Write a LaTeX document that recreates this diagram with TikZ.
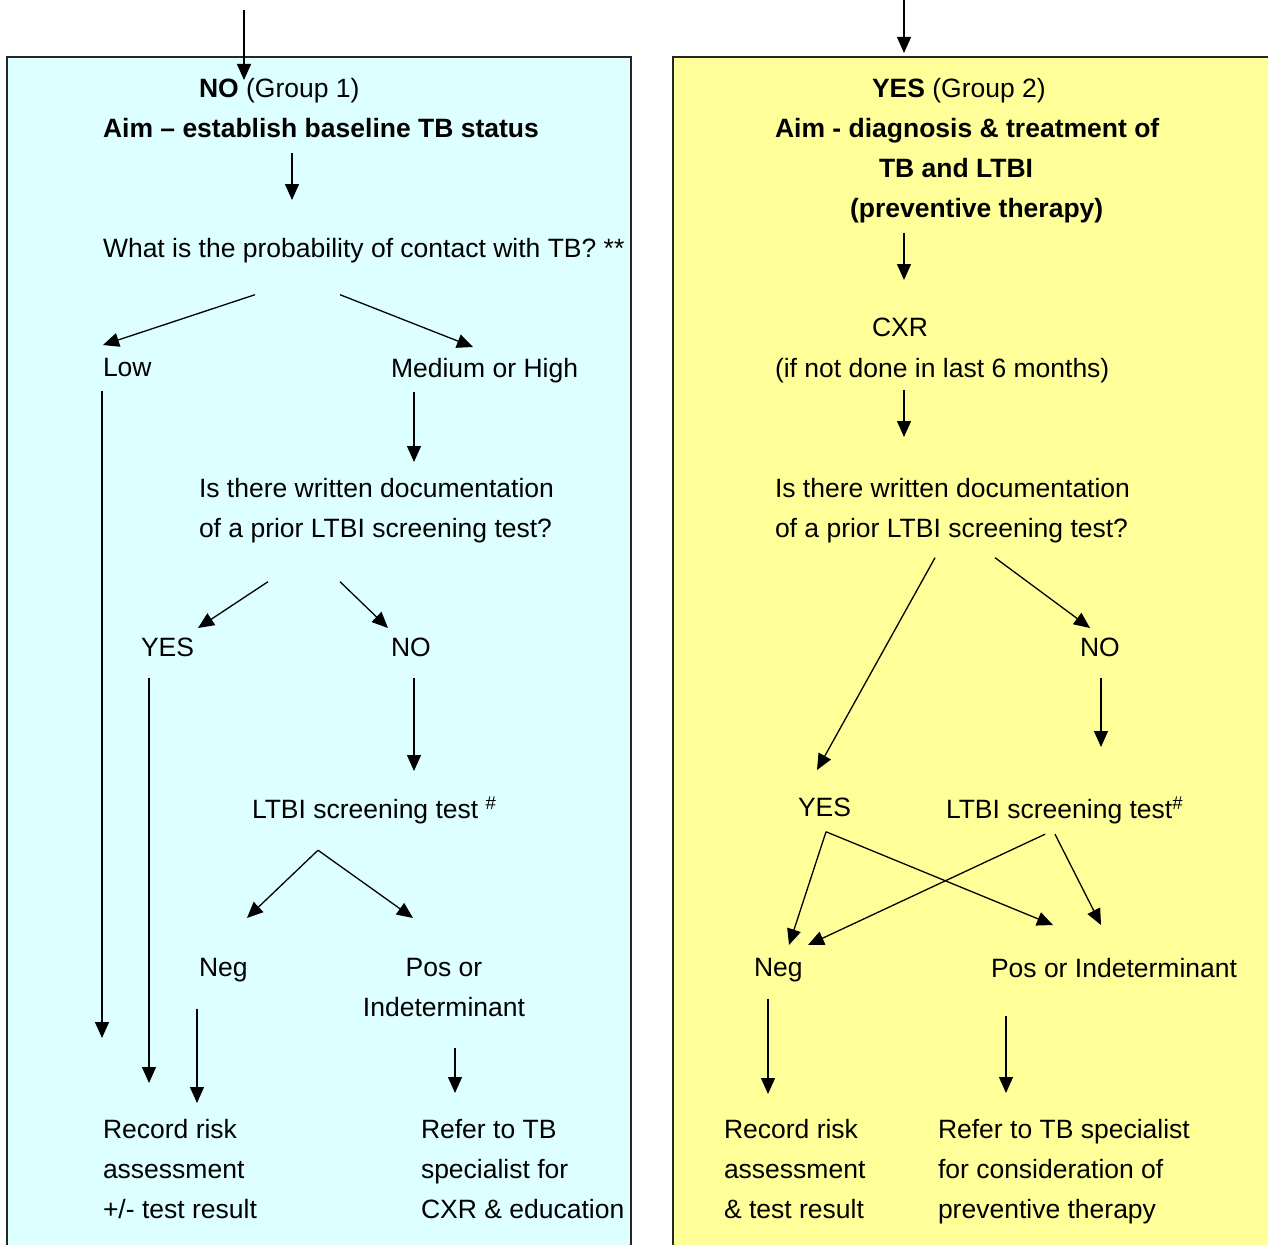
\documentclass[tikz,border=0pt]{standalone}
\usepackage{fontspec}
\setmainfont{Liberation Sans}
\usetikzlibrary{arrows.meta,calc}

\definecolor{groupone}{HTML}{DDFFFF}
\definecolor{grouptwo}{HTML}{FFFF99}

\begin{document}
\begin{tikzpicture}[
    x=1pt, y=-1pt,
    every node/.style={inner sep=0pt, outer sep=0pt, font=\fontsize{26.5}{40}\selectfont},
    txt/.style={anchor=north west, align=left},
    ctr/.style={anchor=north, align=center},
    panel/.style={draw=black!85, line width=1.5pt},
    arrow/.style={-{Triangle[length=16pt,width=14pt]}, line width=1.3pt},
]
    \useasboundingbox (0,0) rectangle (1268,1244);
    \draw[panel, fill=groupone] (7,57) rectangle (631,1262);
    \draw[panel, fill=grouptwo] (673,57) rectangle (1282,1262);

    % group 1
    \node[txt] (noL) at (199,78) {\textbf{NO} (Group 1)};
    \node[txt] (aimL) at (103,118) {\textbf{Aim – establish baseline TB status}};
    \node[txt] (probL) at (103,238) {What is the probability of contact with TB? **};
    \node[txt] (low) at (103,358) {Low};
    \node[txt] (medhigh) at (391,358) {Medium or High};
    \node[txt] (docL) at (199,478) {Is there written documentation\\of a prior LTBI screening test?};
    \node[txt] (yesL) at (141,638) {YES};
    \node[txt] (noL2) at (391,638) {NO};
    \node[txt] (ltbiL) at (252,797) {LTBI screening test \textsuperscript{\#}};
    \node[txt] (negL) at (199,958) {Neg};
    \node[ctr] (posL) at (444,958) {Pos or\\Indeterminant};
    \node[txt] (recL) at (103,1119) {Record risk\\assessment\\+/- test result};
    \node[txt] (refL) at (421,1119) {Refer to TB\\specialist for\\CXR \& education};

    % group 2
    \node[txt] (titleR) at (775,78) {\hspace*{97pt}\textbf{YES} (Group 2)\\\textbf{Aim - diagnosis \& treatment of}\\\hspace*{104pt}\textbf{TB and LTBI}\\\hspace*{75pt}\textbf{(preventive therapy)}};
    \node[txt] (cxr) at (872,318) {CXR};
    \node[txt] (cxrnote) at (775,358) {(if not done in last 6 months)};
    \node[txt] (docR) at (775,478) {Is there written documentation\\of a prior LTBI screening test?};
    \node[txt] (noR) at (1080,638) {NO};
    \node[txt] (yesR) at (798,798) {YES};
    \node[txt] (ltbiR) at (946,797) {LTBI screening test\textsuperscript{\#}};
    \node[txt] (negR) at (754,958) {Neg};
    \node[txt] (posR) at (991,958) {Pos or Indeterminant};
    \node[txt] (recR) at (724,1119) {Record risk\\assessment\\\& test result};
    \node[txt] (refR) at (938,1119) {Refer to TB specialist\\for consideration of\\preventive therapy};

    \coordinate (inL) at (244,10);
    \coordinate (inR) at (904,0);

    \draw[arrow] (inL) -- ($(inL |- noL.north)+(0,2)$);
    \draw[arrow] ($(aimL.south -| 292,0)+(0,16)$) -- ($(probL.north -| 292,0)+(0,-38)$);
    \draw[arrow] ($(probL.south -| 255,0)+(0,32)$) -- ($(low.north -| 103,0)+(0,-13)$);
    \draw[arrow] ($(probL.south -| 340,0)+(0,32)$) -- ($(medhigh.north -| 473,0)+(0,-11)$);
    \draw[arrow] ($(low.south -| 102,0)+(0,15)$) -- ($(recL.north -| 102,0)+(0,-81)$);
    \draw[arrow] ($(medhigh.south -| 414,0)+(0,9)$) -- ($(docL.north -| 414,0)+(0,-16)$);
    \draw[arrow] ($(docL.south -| 268,0)+(0,39)$) -- ($(yesL.north -| 198,0)+(0,-10)$);
    \draw[arrow] ($(docL.south -| 340,0)+(0,39)$) -- ($(noL2.north -| 388,0)+(0,-10)$);
    \draw[arrow] ($(yesL.south -| 149,0)+(0,21)$) -- ($(recL.north -| 149,0)+(0,-36)$);
    \draw[arrow] ($(noL2.south -| 414,0)+(0,21)$) -- ($(ltbiL.north -| 414,0)+(0,-26)$);
    \draw[arrow] ($(ltbiL.south -| 318,0)+(0,26)$) -- ($(negL.north -| 247,0)+(0,-40)$);
    \draw[arrow] ($(ltbiL.south -| 318,0)+(0,26)$) -- ($(posL.north -| 413,0)+(0,-40)$);
    \draw[arrow] ($(negL.south -| 197,0)+(0,27)$) -- ($(recL.north -| 197,0)+(0,-16)$);
    \draw[arrow] ($(posL.south -| 455,0)+(0,31)$) -- ($(refL.north -| 455,0)+(0,-26)$);

    \draw[arrow] (inR) -- ($(inR |- titleR.north)+(0,-25)$);
    \draw[arrow] ($(titleR.south -| 904,0)+(0,10)$) -- ($(cxr.north -| 904,0)+(0,-38)$);
    \draw[arrow] ($(cxrnote.south -| 904,0)+(0,7)$) -- ($(docR.north -| 904,0)+(0,-41)$);
    \draw[arrow] ($(docR.south -| 935,0)+(0,15)$) -- ($(yesR.north -| 817,0)+(0,-28)$);
    \draw[arrow] ($(docR.south -| 995,0)+(0,15)$) -- ($(noR.north -| 1090,0)+(0,-10)$);
    \draw[arrow] ($(noR.south -| 1101,0)+(0,21)$) -- ($(ltbiR.north -| 1101,0)+(0,-50)$);
    \draw[arrow] ($(yesR.south -| 826,0)+(0,15)$) -- ($(negR.north -| 789,0)+(0,-13)$);
    \draw[arrow] ($(yesR.south -| 826,0)+(0,15)$) -- ($(posR.north -| 1053,0)+(0,-33)$);
    \draw[arrow] ($(ltbiR.south -| 1045,0)+(0,10)$) -- ($(negR.north -| 808,0)+(0,-13)$);
    \draw[arrow] ($(ltbiR.south -| 1055,0)+(0,10)$) -- ($(posR.north -| 1101,0)+(0,-33)$);
    \draw[arrow] ($(negR.south -| 768,0)+(0,17)$) -- ($(recR.north -| 768,0)+(0,-25)$);
    \draw[arrow] ($(posR.south -| 1006,0)+(0,39)$) -- ($(refR.north -| 1006,0)+(0,-26)$);
\end{tikzpicture}
\end{document}
